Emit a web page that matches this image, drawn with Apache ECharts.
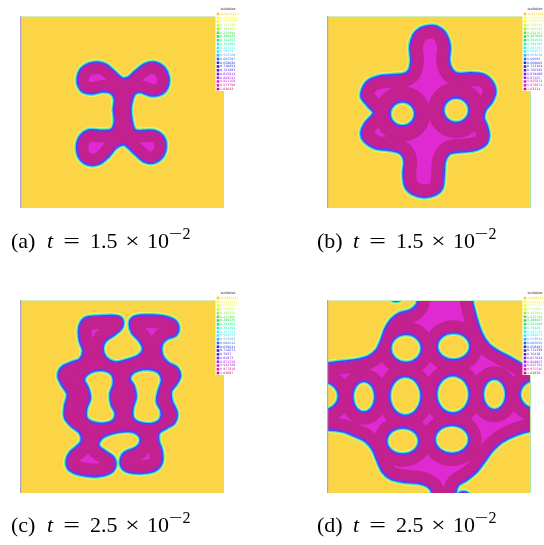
<!DOCTYPE html>
<html>
<head>
<meta charset="utf-8">
<script src="https://cdn.jsdelivr.net/npm/echarts@6/dist/echarts.min.js"></script>
<style>
  html, body { margin: 0; padding: 0; background: #ffffff; }
  #chart { width: 544px; height: 545px; }
</style>
</head>
<body>
<div id="chart"></div>
<script>
// Mesh coordinates of the square domain (x to the right, y downward).
const X_RANGE = [14, 628];
const Y_RANGE = [17, 596];

// ---- (a) t = 1.5e-2 : single "I"-shaped inclusion -------------------------
const A_BLOB = [[188,205],[198,178],[222,162],[250,158],[275,166],[298,186],[320,205],[340,204],
  [362,184],[390,163],[420,158],[446,172],[460,200],[457,232],[438,252],[408,256],[380,246],
  [360,250],[350,272],[346,300],[350,335],[360,362],[388,364],[418,364],[442,378],[452,405],
  [444,438],[418,458],[388,455],[360,432],[328,404],[302,414],[280,440],[252,462],[218,464],
  [194,445],[186,412],[196,380],[222,362],[258,364],[290,360],[300,335],[297,300],[300,268],
  [288,248],[262,244],[232,250],[206,246],[191,228]];

// ---- (b) t = 1.5e-2 : six-lobed inclusion with two holes -------------------
const B_BLOB = [[125,230],[140,212],[170,200],[210,196],[245,193],[262,180],[268,150],[265,110],
  [275,75],[295,55],[320,48],[345,50],[370,70],[383,110],[380,150],[390,180],[410,192],[445,190],
  [485,195],[510,215],[520,245],[510,275],[490,300],[485,325],[495,350],[500,380],[490,405],
  [460,420],[420,425],[385,430],[368,455],[365,495],[360,535],[340,555],[305,562],[270,552],
  [250,530],[245,490],[248,455],[235,430],[200,420],[160,415],[128,395],[118,370],[130,340],
  [155,310],[140,290],[118,260]];
// holes: [cx, cy, rx, ry]
const B_HOLES = [[241,312,39,38],[403,301,40,39]];

// ---- (c) t = 2.5e-2 : connected ladder structure --------------------------
const C_BLOB = [[198,85],[215,70],[260,66],[305,66],[322,78],[318,102],[295,122],[270,140],
  [262,165],[272,190],[300,205],[335,198],[370,185],[385,165],[375,140],[352,115],[345,88],
  [355,70],[385,64],[440,66],[478,78],[490,100],[482,122],[455,133],[440,150],[440,180],
  [458,205],[485,220],[495,245],[483,270],[468,290],[470,320],[485,355],[478,385],[455,400],
  [432,415],[430,440],[440,470],[440,505],[420,528],[385,535],[345,533],[322,520],[318,495],
  [330,475],[365,460],[378,440],[370,420],[345,410],[310,412],[280,420],[258,432],[250,455],
  [275,475],[295,490],[300,515],[285,535],[245,545],[195,540],[162,525],[155,500],[165,475],
  [185,458],[200,440],[195,415],[170,395],[150,370],[150,335],[158,300],[140,270],[130,245],
  [140,220],[170,205],[195,195],[205,170],[195,140],[192,110]];
const C_HOLE_LEFT = [[215,240],[240,228],[272,228],[293,242],[297,268],[287,298],[290,330],
  [302,355],[296,378],[270,388],[238,386],[214,372],[213,342],[224,312],[218,282],[206,258]];
const C_HOLE_RIGHT = [[348,240],[370,227],[405,224],[432,234],[442,258],[432,290],[427,322],
  [440,350],[436,376],[412,389],[378,387],[354,372],[352,342],[362,308],[356,276],[344,256]];

// ---- (d) t = 2.5e-2 : phase spanning the domain, yellow corners + holes ----
const D_BAY_TL = [[-60,-60],[285,-60],[288,17],[281,36],[262,50],[232,58],[208,76],[190,104],
  [178,138],[163,168],[138,188],[100,198],[55,203],[14,208],[-60,210]];
const D_BAY_TR = [[445,-60],[700,-60],[700,228],[628,226],[600,210],[565,190],[530,172],
  [500,150],[480,120],[467,85],[457,50],[450,17]];
const D_BAY_BL = [[-60,405],[14,405],[60,410],[100,425],[130,440],[152,465],[167,500],
  [182,532],[205,552],[245,562],[290,566],[318,576],[332,597],[335,660],[-60,660]];
const D_BAY_BR = [[398,660],[400,597],[408,572],[435,555],[465,530],[488,500],[510,470],
  [540,442],[580,422],[628,408],[700,405],[700,660]];
const D_SPECKS = [[222,10,15,9],[425,603,15,9]];
const D_HOLES = [[252,162,48,44],[395,156,51,42],
  [0,305,50,44],[125,307,35,48],[250,305,49,60],[393,300,51,58],[518,300,36,48],[640,300,47,44],
  [242,440,50,41],[390,435,53,44]];

// ---- IsoValue legends ------------------------------------------------------
const ISO_COLORS = ['#f6cf36','#fff64a','#e6ff3c','#c2ff34','#8cf72c','#4eec2a','#22e04a',
  '#22e884','#30efb4','#3ef0e0','#42e2fb','#32b0f6','#2468ee','#1a34e4','#2a22cc','#4a20df',
  '#7420e6','#a222e6','#cf22dc','#de20b0','#b8186e'];
const ISO_A = ['-0.0261476','0.0264811','0.0791098','0.131738','0.184367','0.236996','0.289625',
  '0.342253','0.394882','0.447511','0.50014','0.552768','0.605397','0.658026','0.710654',
  '0.763283','0.815912','0.868541','0.921169','0.973798','1.02643'];
const ISO_B = ['-0.0311023','0.0220596','0.0752215','0.128383','0.181545','0.234707','0.287869',
  '0.341031','0.394193','0.447355','0.500517','0.553679','0.60684','0.660002','0.713164',
  '0.766326','0.819488','0.87265','0.925812','0.978974','1.03214'];
const ISO_C = ['-0.0297417','0.0232877','0.0763171','0.129347','0.182376','0.235406','0.288435',
  '0.341465','0.394494','0.447523','0.500553','0.553582','0.606612','0.659641','0.712671',
  '0.7657','0.81873','0.871759','0.924789','0.977818','1.03087'];
const ISO_D = ['-0.0284411','0.0244003','0.0772417','0.130083','0.182924','0.235766','0.288607',
  '0.341449','0.39429','0.447131','0.499973','0.552814','0.605656','0.658497','0.711339',
  '0.76418','0.817022','0.869863','0.922704','0.975546','1.02838'];

// ---- captions --------------------------------------------------------------
const CAPTION_TAGS = ['(a)', '(b)', '(c)', '(d)'];
const CAPTION_TIMES = ['1.5', '1.5', '2.5', '2.5'];

// ---------------------------------------------------------------------------
const PANELS = [
  { blobs: [A_BLOB], bays: [], holes: [], ellipses: [], specks: [], full: false, isoLabels: ISO_A,
    dEdge: 11.2, dHole: 11.2 },
  { blobs: [B_BLOB], bays: [], holes: [], ellipses: B_HOLES, specks: [], full: false, isoLabels: ISO_B,
    dEdge: 12.5, dHole: 15 },
  { blobs: [C_BLOB], bays: [], holes: [C_HOLE_LEFT, C_HOLE_RIGHT], ellipses: [], specks: [], full: false,
    isoLabels: ISO_C, dEdge: 12.5, dHole: 12.5 },
  { blobs: [], bays: [D_BAY_TL, D_BAY_TR, D_BAY_BL, D_BAY_BR], holes: [], ellipses: D_HOLES,
    specks: D_SPECKS, full: true, isoLabels: ISO_D, dEdge: 12, dHole: 12 }
];

const LAYOUT = [
  { left: 20,  top: 16,  width: 204, height: 192 },
  { left: 327, top: 16,  width: 204, height: 192 },
  { left: 20,  top: 300, width: 204, height: 193 },
  { left: 327, top: 300, width: 204, height: 193 }
];
const CAPTION_POS = [[11, 242], [317, 242], [11, 526], [317, 526]];

const YELLOW = '#fbd545';
const DARK = '#c2218f';
const BRIGHT = '#df2ad2';
const VIOLET = '#8a2ddf';
// transition bands around the interface: [colour, total stroke width]
const BANDS = [['#f4f880', 7.2], ['#a8f060', 6.0], ['#46e8c0', 4.8], ['#3ccff5', 3.8], ['#3550ee', 2.6]];

function signedArea(pts) {
  let s = 0;
  for (let i = 0; i < pts.length; i++) {
    const a = pts[i], b = pts[(i + 1) % pts.length];
    s += a[0] * b[1] - b[0] * a[1];
  }
  return s / 2;
}
function orient(pts, sign) {
  return signedArea(pts) * sign < 0 ? pts.slice().reverse() : pts;
}
function f(v) { return v.toFixed(2); }
// closed Catmull-Rom spline through the ring, as cubic Bezier path data
function smoothRing(pts) {
  const n = pts.length;
  let d = 'M' + f(pts[0][0]) + ' ' + f(pts[0][1]);
  for (let i = 0; i < n; i++) {
    const p0 = pts[(i - 1 + n) % n], p1 = pts[i], p2 = pts[(i + 1) % n], p3 = pts[(i + 2) % n];
    const c1 = [p1[0] + (p2[0] - p0[0]) / 6, p1[1] + (p2[1] - p0[1]) / 6];
    const c2 = [p2[0] - (p3[0] - p1[0]) / 6, p2[1] - (p3[1] - p1[1]) / 6];
    d += 'C' + f(c1[0]) + ' ' + f(c1[1]) + ' ' + f(c2[0]) + ' ' + f(c2[1]) + ' ' + f(p2[0]) + ' ' + f(p2[1]);
  }
  return d + 'Z';
}
function straightRing(pts) {
  return 'M' + pts.map(p => f(p[0]) + ' ' + f(p[1])).join('L') + 'Z';
}
function ellipseRing(api, e) {
  const pts = [];
  for (let k = 0; k < 40; k++) {
    const t = 2 * Math.PI * k / 40;
    pts.push(api.coord([e[0] + e[2] * Math.cos(t), e[1] + e[3] * Math.sin(t)]));
  }
  return pts;
}

function makeRenderer(panel) {
  return function (params, api) {
    const c0 = api.coord([X_RANGE[0], Y_RANGE[0]]);
    const c1 = api.coord([X_RANGE[1], Y_RANGE[1]]);
    const fx = Math.min(c0[0], c1[0]), fy = Math.min(c0[1], c1[1]);
    const fw = Math.abs(c1[0] - c0[0]), fh = Math.abs(c1[1] - c0[1]);
    const toPx = ring => ring.map(p => api.coord(p));

    let edgePath = '', holePath = '', fullPath = '';
    panel.blobs.forEach(r => { edgePath += smoothRing(orient(toPx(r), 1)); });
    panel.specks.forEach(e => { edgePath += smoothRing(orient(ellipseRing(api, e), 1)); });
    panel.bays.forEach(r => { edgePath += smoothRing(orient(toPx(r), -1)); });
    panel.holes.forEach(r => { holePath += smoothRing(orient(toPx(r), -1)); });
    panel.ellipses.forEach(e => { holePath += smoothRing(orient(ellipseRing(api, e), -1)); });
    if (panel.full) {
      const m = 40;
      fullPath = straightRing(orient([[fx - m, fy - m], [fx + fw + m, fy - m],
        [fx + fw + m, fy + fh + m], [fx - m, fy + fh + m]], 1));
    }
    const allPath = fullPath + edgePath + holePath;

    const inner = [{ type: 'path', shape: { pathData: allPath }, style: { fill: BRIGHT, stroke: 'none' } }];
    if (edgePath) inner.push({ type: 'path', shape: { pathData: edgePath },
      style: { fill: 'none', stroke: DARK, lineWidth: 2 * panel.dEdge, lineJoin: 'round' } });
    if (holePath) inner.push({ type: 'path', shape: { pathData: holePath },
      style: { fill: 'none', stroke: DARK, lineWidth: 2 * panel.dHole, lineJoin: 'round' } });
    inner.push({ type: 'path', shape: { pathData: allPath },
      style: { fill: 'none', stroke: VIOLET, lineWidth: 2.6, lineJoin: 'round' } });

    const children = [{ type: 'rect', shape: { x: fx, y: fy, width: fw, height: fh }, style: { fill: YELLOW } }];
    BANDS.forEach(b => children.push({ type: 'path', shape: { pathData: allPath },
      style: { fill: 'none', stroke: b[0], lineWidth: b[1], lineJoin: 'round' } }));
    children.push({ type: 'group', clipPath: { type: 'path', shape: { pathData: allPath } }, children: inner });
    // domain frame
    children.push({ type: 'line', shape: { x1: fx, y1: fy, x2: fx + fw, y2: fy }, style: { stroke: '#cfeec0', lineWidth: 2 } });
    children.push({ type: 'line', shape: { x1: fx + fw, y1: fy, x2: fx + fw, y2: fy + fh }, style: { stroke: '#b5e6a0', lineWidth: 2 } });
    children.push({ type: 'line', shape: { x1: fx, y1: fy, x2: fx, y2: fy + fh }, style: { stroke: '#a9a3c8', lineWidth: 2.4 } });
    return { type: 'group', children: children };
  };
}

function legendElements(k) {
  const L = LAYOUT[k];
  const labels = PANELS[k].isoLabels;
  const bx = L.left + L.width - 8.5, by = L.top - 4;
  const els = [
    { type: 'rect', z: 20, shape: { x: bx, y: by, width: 26, height: 79 }, style: { fill: '#ffffff' } },
    { type: 'text', z: 21, x: bx + 5, y: by - 2.6,
      style: { text: 'IsoValue', fontSize: 3.6, fontFamily: 'DejaVu Sans', fill: '#333333', verticalAlign: 'middle' } }
  ];
  ISO_COLORS.forEach((c, i) => {
    const y = by + 2 + i * 3.75;
    els.push({ type: 'rect', z: 21, shape: { x: bx + 1.2, y: y - 1.3, width: 2.6, height: 2.6 }, style: { fill: c } });
    els.push({ type: 'text', z: 21, x: bx + 4.6, y: y,
      style: { text: labels[i], fontSize: 3.2, fontFamily: 'DejaVu Sans', fill: c, verticalAlign: 'middle' } });
  });
  return els;
}

function captionElements(k) {
  const x0 = CAPTION_POS[k][0], y0 = CAPTION_POS[k][1];
  const font = '"Liberation Serif", "Times New Roman", serif';
  const base = { fontFamily: font, fontSize: 22, fill: '#000000', verticalAlign: 'middle' };
  const t = (x, y, text, extra, sx) => ({ type: 'text', z: 20, x: x, y: y, scaleX: sx || 1,
    style: Object.assign({}, base, { text: text, align: 'left' }, extra || {}) });
  return [
    t(x0, y0, CAPTION_TAGS[k]),
    t(x0 + 36, y0, 't', { fontStyle: 'italic' }),
    t(x0 + 60.5, y0, '=', { align: 'center' }, 1.35),
    t(x0 + 79, y0, CAPTION_TIMES[k]),
    t(x0 + 121.5, y0, '\u00d7', { align: 'center' }, 1.15),
    t(x0 + 136, y0, '10'),
    t(x0 + 164.5, y0 - 7, '\u2212', { fontSize: 16, align: 'center' }, 1.5),
    t(x0 + 171.5, y0 - 7, '2', { fontSize: 16 })
  ];
}

const chart = echarts.init(document.getElementById('chart'), null, { renderer: 'canvas' });
let graphics = [];
for (let k = 0; k < 4; k++) graphics = graphics.concat(legendElements(k), captionElements(k));

chart.setOption({
  animation: false,
  backgroundColor: '#ffffff',
  grid: LAYOUT.map(l => ({ left: l.left, top: l.top, width: l.width, height: l.height, show: false })),
  xAxis: LAYOUT.map((l, i) => ({ type: 'value', gridIndex: i, min: X_RANGE[0], max: X_RANGE[1], show: false })),
  yAxis: LAYOUT.map((l, i) => ({ type: 'value', gridIndex: i, min: Y_RANGE[0], max: Y_RANGE[1], inverse: true, show: false })),
  series: PANELS.map((p, k) => ({
    type: 'custom',
    xAxisIndex: k,
    yAxisIndex: k,
    clip: true,
    silent: true,
    data: [[X_RANGE[0], Y_RANGE[0]]],
    renderItem: makeRenderer(p)
  })),
  graphic: { elements: graphics }
});
</script>
</body>
</html>
